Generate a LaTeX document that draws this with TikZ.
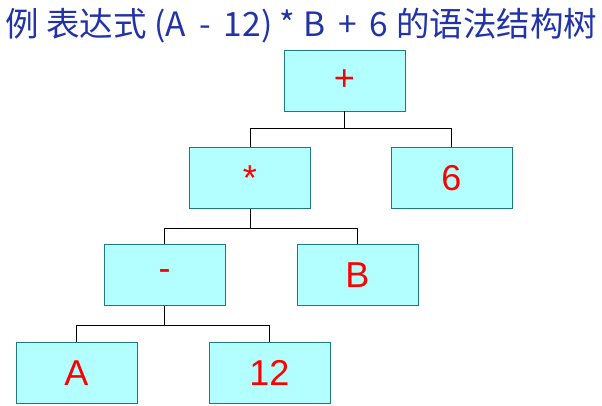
\documentclass[tikz,border=0pt]{standalone}
\usepackage{fontspec}
\setmainfont{Liberation Sans}
\newfontfamily\cjk{Noto Sans CJK SC}
\usetikzlibrary{positioning, calc}
\definecolor{boxFill}{HTML}{B3FFFF}
\definecolor{boxLine}{HTML}{1F7A80}
\definecolor{titleBlue}{HTML}{2233AA}
\tikzset{
  tnode/.style={draw=boxLine, fill=boxFill, rectangle, minimum width=121pt, minimum height=61pt,
    inner sep=0pt, text=red, font=\fontsize{36}{40}\selectfont},
  tedge/.style={draw=black, line width=1pt}
}
\begin{document}
\begin{tikzpicture}[x=1pt, y=1pt]
        \useasboundingbox (0,0) rectangle (602,406);
        \node[anchor=west, text=titleBlue, inner sep=0pt, font=\cjk\fontsize{28}{30}\selectfont] (title) at (5,380)
          {\resizebox{592pt}{!}{例 表达式 (A \,-\, 12) * B \,+\, 6 的语法结构树}};
        \node[tnode] (plus) at (344.5,325.5) {+};
        \node[tnode] (mul) at (250,228) {*};
        \node[tnode] (six) at (451.5,228) {6};
        \node[tnode] (minus) at (164.5,131) {-};
        \node[tnode] (b) at (357.5,131) {B};
        \node[tnode] (a) at (76.5,33) {A};
        \node[tnode] (twelve) at (269.5,33) {12};

        \draw[tedge] (plus.south) -- ++(0,-17) -| (mul.north);
        \draw[tedge] (plus.south) -- ++(0,-17) -| (six.north);
        \draw[tedge] (mul.south) -- ++(0,-19.5) -| (minus.north);
        \draw[tedge] (mul.south) -- ++(0,-19.5) -| (b.north);
        \draw[tedge] (minus.south) -- ++(0,-19.5) -| (a.north);
        \draw[tedge] (minus.south) -- ++(0,-19.5) -| (twelve.north);
\end{tikzpicture}
\end{document}
